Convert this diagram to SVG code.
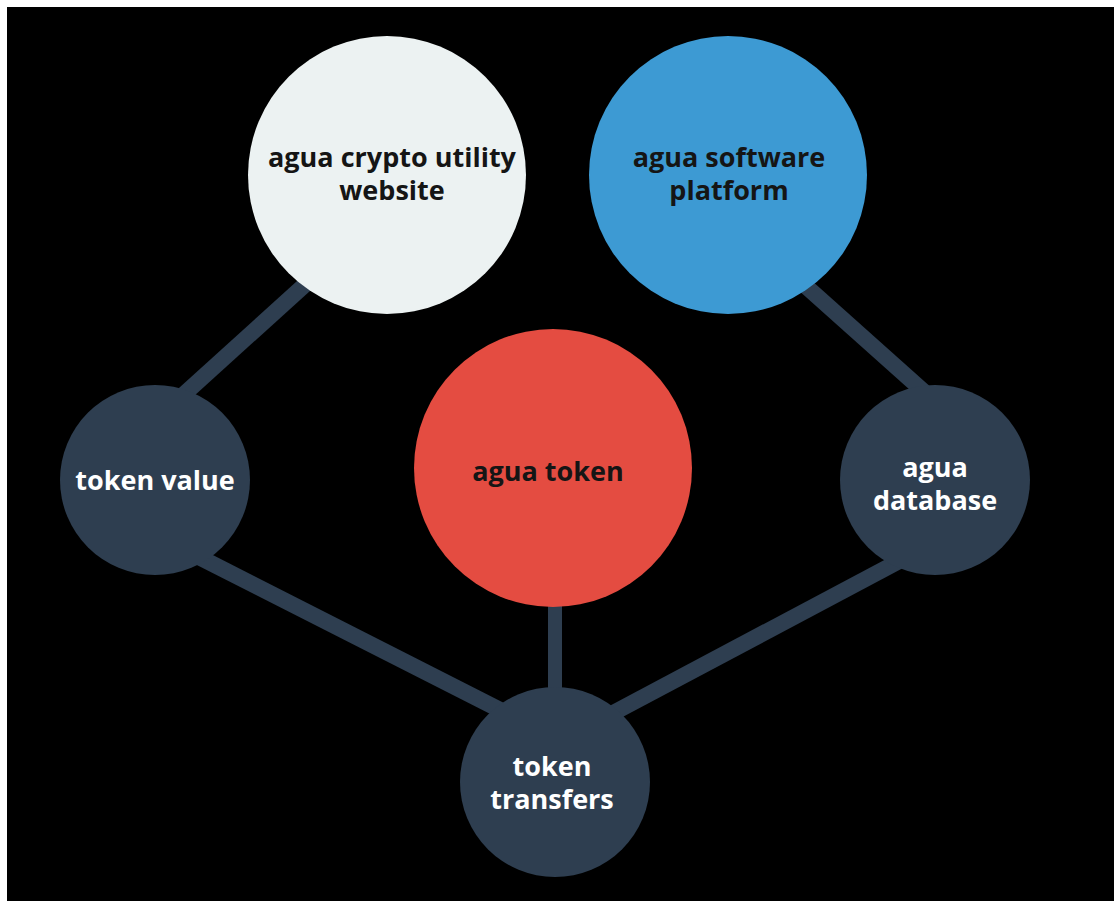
<svg xmlns="http://www.w3.org/2000/svg" width="1114" height="901" viewBox="0 0 1114 901">
<style>
.lbl{font-family:"Open Sans","Lato","Liberation Sans",sans-serif;font-weight:700;font-size:27px;text-anchor:middle}
.dk{fill:#151515}
.lt{fill:#ffffff}
.edge{stroke:#2e3e50;stroke-width:16;fill:none}
.node-dark{fill:#2e3e50}
</style>
<rect width="1114" height="901" fill="#ffffff"/>
<rect x="7" y="7" width="1107" height="894" fill="#000000"/>
<g id="connectors">
<line class="edge" x1="330" y1="262" x2="160" y2="416"/>
<line class="edge" x1="790" y1="272" x2="950" y2="415"/>
<line class="edge" x1="195" y1="555" x2="520" y2="720"/>
<line class="edge" x1="905" y1="558" x2="600" y2="720"/>
<line class="edge" x1="555" y1="560" x2="555" y2="720" style="stroke-width:14"/>
</g>
<g id="website">
<circle cx="387" cy="175" r="139" fill="#ecf2f2"/>
<text class="lbl dk" x="392" y="167">agua crypto utility</text>
<text class="lbl dk" x="392" y="200">website</text>
</g>
<g id="software">
<circle cx="728" cy="175" r="139" fill="#3d9ad3"/>
<text class="lbl dk" x="729" y="167">agua software</text>
<text class="lbl dk" x="729" y="200">platform</text>
</g>
<g id="token">
<circle cx="553" cy="468" r="139" fill="#e44c41"/>
<text class="lbl dk" x="548" y="481">agua token</text>
</g>
<g id="tokenvalue">
<circle class="node-dark" cx="155" cy="480" r="95"/>
<text class="lbl lt" x="155" y="490">token value</text>
</g>
<g id="database">
<circle class="node-dark" cx="935" cy="480" r="95"/>
<text class="lbl lt" x="935" y="477">agua</text>
<text class="lbl lt" x="935" y="510">database</text>
</g>
<g id="transfers">
<circle class="node-dark" cx="555" cy="782" r="95"/>
<text class="lbl lt" x="552" y="776">token</text>
<text class="lbl lt" x="552" y="809">transfers</text>
</g>
</svg>
